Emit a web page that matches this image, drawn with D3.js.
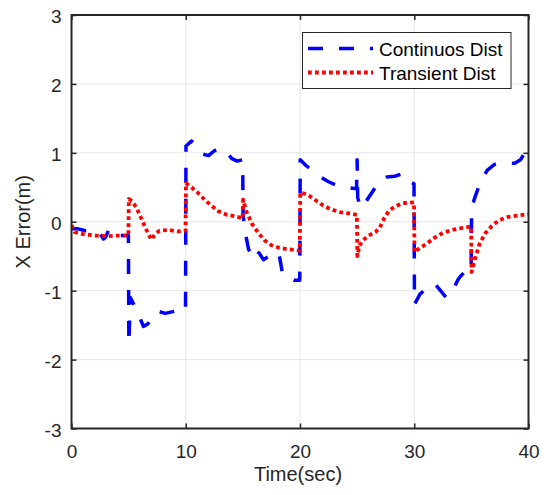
<!DOCTYPE html>
<html>
<head>
<meta charset="utf-8">
<script src="https://cdn.jsdelivr.net/npm/d3@7"></script>
<style>
  body { margin: 0; background: #fff; }
  svg { display: block; font-family: "Liberation Sans", Arial, Helvetica, sans-serif; }
</style>
</head>
<body>
<div id="chart"></div>
<script>
// Data
const xTicks = [0, 10, 20, 30, 40];
const yTicks = [-3, -2, -1, 0, 1, 2, 3];
const seriesNames = ["Continuos Dist", "Transient Dist"];

const contT = [0, 0.5, 1.2, 2, 2.4, 2.8, 3.0, 3.3, 3.8, 4.3, 4.98, 5.02, 5.15, 5.6, 6.0, 6.3, 6.7, 7.1, 7.6, 8.2, 9.0, 9.98,
  10.02, 10.5, 11.0, 11.5, 12.0, 12.5, 13.0, 13.5, 14.0, 14.5, 14.98, 15.02, 15.2, 15.5, 16.0, 16.4, 16.8, 17.3, 17.8, 18.2, 18.5, 19.0, 19.5, 19.98,
  20.02, 20.5, 21.0, 21.8, 22.5, 23.3, 24.0, 24.95, 25.0, 25.05, 25.3, 25.8, 26.4, 27.0, 27.6, 28.3, 29.0, 29.4, 29.98,
  30.02, 30.5, 31.2, 31.8, 32.3, 32.8, 33.3, 33.8, 34.0, 34.4, 34.98, 35.02, 35.3, 35.8, 36.4, 37.0, 37.6, 38.2, 38.8, 39.3, 39.6, 40];
const contV = [-0.1, -0.1, -0.13, -0.12, -0.15, -0.25, -0.22, -0.1, -0.15, -0.2, -0.2, -1.77, -1.1, -1.25, -1.4, -1.52, -1.48, -1.36, -1.3, -1.33, -1.3, -1.3,
  1.1, 1.17, 1.1, 0.98, 0.96, 1.03, 1.05, 1.04, 0.92, 0.88, 0.9, 0.1, -0.15, -0.4, -0.55, -0.45, -0.55, -0.5, -0.43, -0.5, -0.78, -0.82, -0.85, -0.85,
  0.9, 0.82, 0.75, 0.65, 0.58, 0.52, 0.5, 0.48, 0.9, 0.35, 0.2, 0.3, 0.45, 0.6, 0.65, 0.66, 0.7, 0.6, 0.55,
  -1.2, -1.05, -0.95, -0.9, -1.0, -1.1, -1.02, -0.85, -0.8, -0.73, -0.73, 0.2, 0.35, 0.58, 0.75, 0.83, 0.85, 0.85, 0.85, 0.9, 0.98, 1.0];

const transT = [0, 0.3, 1, 2, 3, 4, 4.98, 5.02, 5.3, 5.7, 6.1, 6.5, 6.8, 7.0, 7.3, 7.7, 8.5, 9.3, 9.98,
  10.02, 10.5, 11.0, 11.6, 12.2, 12.9, 13.6, 14.3, 14.98, 15.02, 15.3, 15.8, 16.3, 16.9, 17.5, 18.2, 19.0, 19.98,
  20.02, 20.6, 21.3, 22.0, 22.7, 23.5, 24.3, 24.98, 25.02, 25.2, 25.5, 26.0, 26.6, 27.0, 27.4, 27.8, 28.3, 29.0, 29.98,
  30.02, 30.5, 31.0, 31.7, 32.5, 33.3, 34.2, 34.98, 35.02, 35.3, 35.7, 36.2, 36.8, 37.4, 38.2, 39.0, 40];
const transV = [-0.05, -0.15, -0.18, -0.2, -0.21, -0.2, -0.2, 0.33, 0.3, 0.2, 0.05, -0.1, -0.2, -0.26, -0.18, -0.13, -0.12, -0.14, -0.13,
  0.56, 0.5, 0.43, 0.33, 0.24, 0.15, 0.1, 0.08, 0.05, 0.32, 0.15, -0.03, -0.15, -0.27, -0.34, -0.38, -0.4, -0.42,
  0.42, 0.4, 0.32, 0.24, 0.18, 0.14, 0.12, 0.1, -0.5, -0.35, -0.27, -0.2, -0.15, -0.08, 0.06, 0.16, 0.22, 0.27, 0.28,
  -0.44, -0.38, -0.33, -0.24, -0.16, -0.12, -0.09, -0.07, -0.73, -0.55, -0.33, -0.17, -0.06, 0.02, 0.07, 0.09, 0.11];

// Layout
const w = 547, h = 495;
const box = { left: 71.5, right: 528.5, top: 15, bottom: 428.5 };
const ink = "#262626";

const x = d3.scaleLinear().domain([0, 40]).range([box.left, box.right]);
const y = d3.scaleLinear().domain([-3, 3]).range([box.bottom, box.top]);

const svg = d3.select("#chart").append("svg")
  .attr("width", w)
  .attr("height", h);

// Grid
svg.append("g").selectAll("line")
  .data(xTicks.slice(1, -1))
  .enter().append("line")
  .attr("x1", d => x(d)).attr("x2", d => x(d))
  .attr("y1", box.top).attr("y2", box.bottom)
  .attr("stroke", "#e6e6e6").attr("stroke-width", 1);
svg.append("g").selectAll("line")
  .data(yTicks.slice(1, -1))
  .enter().append("line")
  .attr("x1", box.left).attr("x2", box.right)
  .attr("y1", d => y(d)).attr("y2", d => y(d))
  .attr("stroke", "#e6e6e6").attr("stroke-width", 1);

// Series
svg.append("clipPath").attr("id", "clip")
  .append("rect")
  .attr("x", box.left).attr("y", box.top)
  .attr("width", box.right - box.left).attr("height", box.bottom - box.top);

const line = d3.line().x(d => x(d[0])).y(d => y(d[1]));
const contData = contT.map((t, i) => [t, contV[i]]);
const transData = transT.map((t, i) => [t, transV[i]]);

const styles = [
  { color: "#0000ff", width: 3.5, dash: "15,16" },
  { color: "#ff0000", width: 3.8, dash: "3.8,3.2" }
];

const plot = svg.append("g").attr("clip-path", "url(#clip)");
[contData, transData].forEach((data, i) => {
  plot.append("path")
    .datum(data)
    .attr("d", line)
    .attr("fill", "none")
    .attr("stroke", styles[i].color)
    .attr("stroke-width", styles[i].width)
    .attr("stroke-dasharray", styles[i].dash)
    .attr("stroke-linejoin", "round");
});

// Axes (plain hyphen for negatives, like the reference)
const fmt = d => String(d);
const xAxis = d3.axisBottom(x).tickValues(xTicks).tickFormat(fmt).tickSize(-5).tickPadding(16);
const yAxis = d3.axisLeft(y).tickValues(yTicks).tickFormat(fmt).tickSize(-5).tickPadding(10);

const gx = svg.append("g")
  .attr("transform", "translate(0," + box.bottom + ")")
  .call(xAxis);
const gy = svg.append("g")
  .attr("transform", "translate(" + box.left + ",0)")
  .call(yAxis);
svg.append("g")
  .attr("transform", "translate(0," + box.top + ")")
  .call(d3.axisTop(x).tickValues(xTicks).tickSize(-5).tickFormat(""));
svg.append("g")
  .attr("transform", "translate(" + box.right + ",0)")
  .call(d3.axisRight(y).tickValues(yTicks).tickSize(-5).tickFormat(""));

svg.selectAll(".domain").remove();
svg.selectAll(".tick line").attr("stroke", ink).attr("stroke-width", 1.5);
svg.selectAll(".tick text").attr("fill", ink).style("font-size", "19px").style("font-family", null);
gy.selectAll(".tick text").attr("dy", "0.4em");
gx.selectAll(".tick text").attr("dy", "0.71em");

svg.append("rect")
  .attr("x", box.left).attr("y", box.top)
  .attr("width", box.right - box.left).attr("height", box.bottom - box.top)
  .attr("fill", "none")
  .attr("stroke", ink)
  .attr("stroke-width", 2);

// Axis titles
svg.append("text")
  .attr("x", 298).attr("y", 481)
  .attr("text-anchor", "middle")
  .attr("fill", ink)
  .style("font-size", "20px")
  .text("Time(sec)");
svg.append("text")
  .attr("transform", "translate(30," + y(0) + ") rotate(-90)")
  .attr("text-anchor", "middle")
  .attr("fill", ink)
  .style("font-size", "20px")
  .text("X Error(m)");

// Legend
const legend = svg.append("g");
legend.append("rect")
  .attr("x", 302.5).attr("y", 32.5)
  .attr("width", 208.5).attr("height", 56)
  .attr("fill", "#fff")
  .attr("stroke", ink)
  .attr("stroke-width", 1);
const rowY = [48.5, 72.5];
seriesNames.forEach((name, i) => {
  legend.append("line")
    .attr("x1", 308).attr("x2", 373)
    .attr("y1", rowY[i]).attr("y2", rowY[i])
    .attr("stroke", styles[i].color)
    .attr("stroke-width", styles[i].width)
    .attr("stroke-dasharray", styles[i].dash);
  legend.append("text")
    .attr("x", 379).attr("y", rowY[i] + 7)
    .attr("fill", "#000")
    .style("font-size", "19px")
    .text(name);
});
</script>
</body>
</html>
